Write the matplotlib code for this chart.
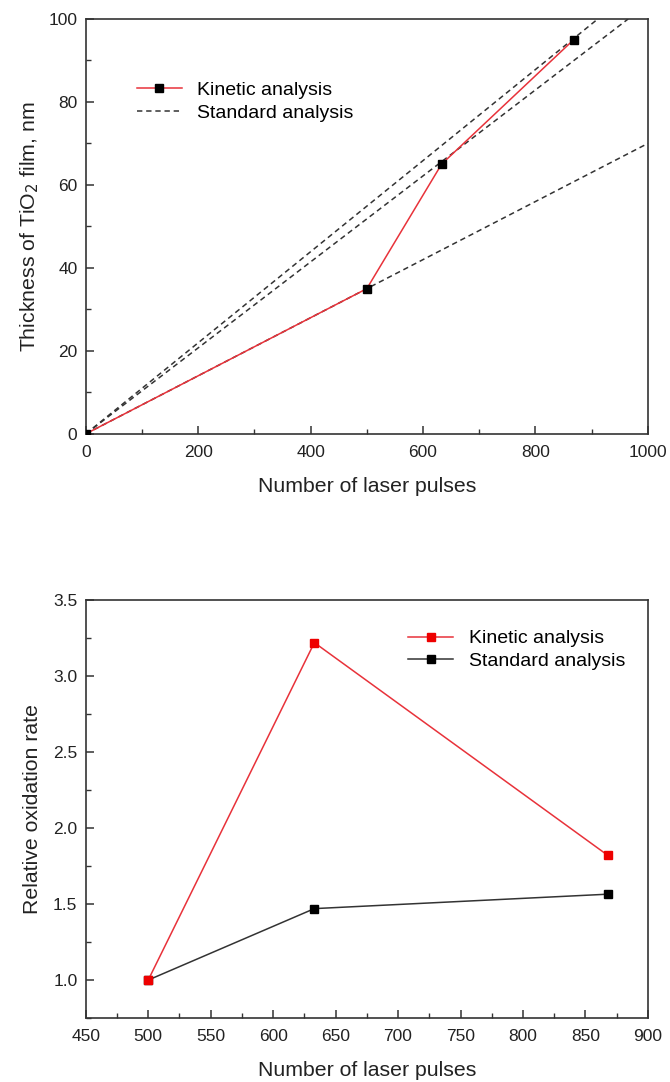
import matplotlib
matplotlib.use('Agg')
import matplotlib.pyplot as plt
from matplotlib.ticker import MultipleLocator, FormatStrFormatter

plt.rcParams['font.family'] = ['Liberation Sans', 'DejaVu Sans']

# top panel: film thickness vs pulses
pulses = [0, 500, 633, 868]
thickness = [0, 35, 65, 95]
# standard analysis lines: from origin to these end points
std_end_x = [1000, 965, 911]
std_end_y = [70, 100, 100]

# bottom panel: relative oxidation rate
rate_pulses = [500, 633, 868]
rate_kinetic = [1.0, 3.22, 1.82]
rate_standard = [1.0, 1.47, 1.565]

fig = plt.figure(figsize=(6.7, 10.82), dpi=100)
ax1 = fig.add_axes([0.128, 0.599, 0.839, 0.3835])
ax2 = fig.add_axes([0.128, 0.0591, 0.839, 0.3863])

text_col = '#222222'
red = '#e8323a'

# === top panel ===
for i, (ex, ey) in enumerate(zip(std_end_x, std_end_y)):
    ax1.plot([0, ex], [0, ey], color='#333333', linestyle=(0, (3.5, 2.5)), lw=1.1,
             label='Standard analysis' if i == 0 else None, zorder=2)
ax1.plot(pulses, thickness, color=red, lw=1.1, marker='s', ms=6,
         mfc='black', mec='black', label='Kinetic analysis', zorder=3)
ax1.set_xlim(0, 1000)
ax1.set_ylim(0, 100)
ax1.xaxis.set_major_locator(MultipleLocator(200))
ax1.xaxis.set_minor_locator(MultipleLocator(100))
ax1.yaxis.set_major_locator(MultipleLocator(20))
ax1.yaxis.set_minor_locator(MultipleLocator(10))
ax1.set_xlabel('Number of laser pulses', fontsize=15.3, color=text_col, labelpad=12)
ax1.set_ylabel('Thickness of TiO$_2$ film, nm', fontsize=15.3, color=text_col, labelpad=5)
h, l = ax1.get_legend_handles_labels()
order = [l.index('Kinetic analysis'), l.index('Standard analysis')]
ax1.legend([h[i] for i in order], [l[i] for i in order], loc='upper left',
           bbox_to_anchor=(0.06, 0.891), frameon=False, fontsize=14,
           handlelength=2.3, handletextpad=0.8, labelspacing=0.25)

# === bottom panel ===
ax2.plot(rate_pulses, rate_kinetic, color=red, lw=1.1, marker='s', ms=6,
         mfc='#ee0000', mec='#ee0000', label='Kinetic analysis', zorder=3)
ax2.plot(rate_pulses, rate_standard, color='#333333', lw=1.1, marker='s', ms=6,
         mfc='black', mec='black', label='Standard analysis', zorder=2)
ax2.set_xlim(450, 900)
ax2.set_ylim(0.75, 3.5)
ax2.xaxis.set_major_locator(MultipleLocator(50))
ax2.xaxis.set_minor_locator(MultipleLocator(25))
ax2.yaxis.set_major_locator(MultipleLocator(0.5))
ax2.yaxis.set_minor_locator(MultipleLocator(0.25))
ax2.yaxis.set_major_formatter(FormatStrFormatter('%.1f'))
ax2.set_xlabel('Number of laser pulses', fontsize=15.3, color=text_col, labelpad=12)
ax2.set_ylabel('Relative oxidation rate', fontsize=15.3, color=text_col, labelpad=8)
ax2.legend(loc='upper left', bbox_to_anchor=(0.543, 0.971), frameon=False, fontsize=14,
           handlelength=2.3, handletextpad=0.8, labelspacing=0.25)

for ax in (ax1, ax2):
    for s in ax.spines.values():
        s.set_linewidth(1.2)
        s.set_color('#333333')
    ax.tick_params(which='major', direction='in', length=6, width=1.1,
                   labelsize=12.5, colors='#333333', labelcolor=text_col)
    ax.tick_params(which='minor', direction='in', length=3.5, width=1.0, colors='#333333')
    ax.tick_params(axis='x', pad=8)
    ax.tick_params(axis='y', pad=6)

fig.savefig('out.png', dpi=100)
